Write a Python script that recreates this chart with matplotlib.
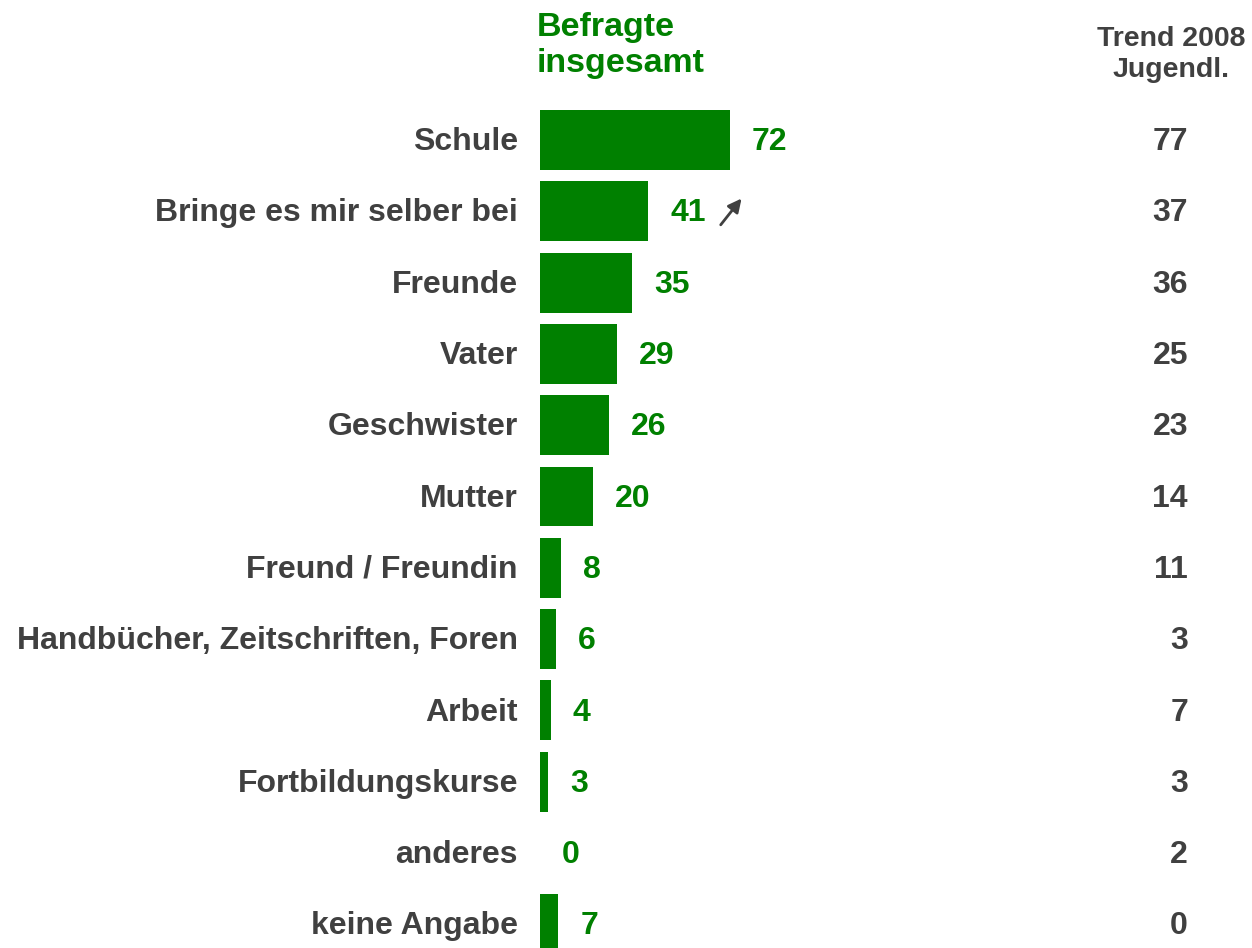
import matplotlib.pyplot as plt

categories = ["Schule", "Bringe es mir selber bei", "Freunde", "Vater", "Geschwister",
              "Mutter", "Freund / Freundin", "Handbücher, Zeitschriften, Foren",
              "Arbeit", "Fortbildungskurse", "anderes", "keine Angabe"]
total = [72, 41, 35, 29, 26, 20, 8, 6, 4, 3, 0, 7]
trend_2008 = [77, 37, 36, 25, 23, 14, 11, 3, 7, 3, 2, 0]

GREEN = "#008000"
GREY = "#404040"
W, H = 1252, 948
PX = 2.64  # pixels per percent

plt.rcParams['font.family'] = ['Liberation Sans', 'DejaVu Sans']
fig = plt.figure(figsize=(W / 100, H / 100), dpi=100)
ax = fig.add_axes([540 / W, 0, (W - 540) / W, 1])
ax.set_xlim(0, (W - 540) / PX)
ax.set_ylim((H - 140) / 71.3, -140 / 71.3)
ax.axis('off')

rows = range(len(categories))
ax.barh(rows, total, height=0.84, color=GREEN)
dy = 0.03
for i, (cat, v, t) in enumerate(zip(categories, total, trend_2008)):
    ax.text(v + 22 / PX, i + dy, str(v), color=GREEN, fontsize=23, fontweight='bold',
            ha='left', va='center')
    ax.text(-22 / PX, i + dy, cat, color=GREY, fontsize=23, fontweight='bold',
            ha='right', va='center', clip_on=False)
    ax.text((1188 - 540) / PX, i + dy, str(t), color=GREY, fontsize=23, fontweight='bold',
            ha='right', va='center')

# trend arrow next to "Bringe es mir selber bei"
ax.annotate("", xy=(77, 0.79), xytext=(67.8, 1.22),
            arrowprops=dict(arrowstyle='-|>', color=GREY, lw=2, mutation_scale=20))

fig.text(537 / W, 1 - 12 / H, "Befragte\ninsgesamt", color=GREEN, fontsize=24.5,
         fontweight='bold', ha='left', va='top', linespacing=1.2)
fig.text(1171 / W, 1 - 26 / H, "Trend 2008\nJugendl.", color=GREY, fontsize=20.5,
         fontweight='bold', ha='center', va='top', linespacing=1.27)

fig.savefig("out.png", dpi=100)
